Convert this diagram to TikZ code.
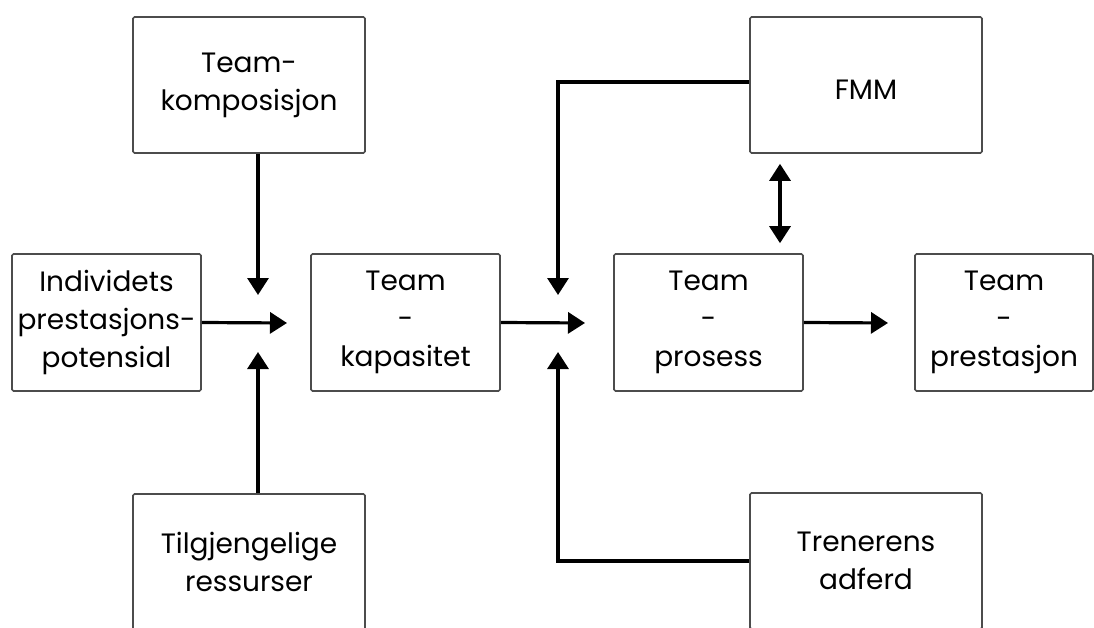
\documentclass[tikz,border=0pt]{standalone}
\usepackage{fontspec}
\setmainfont{Poppins}
\usetikzlibrary{arrows.meta}
\begin{document}
\begin{tikzpicture}[x=1pt,y=-1pt,
  box/.style={draw=black!70,line width=1.6pt,rounded corners=1.5pt,align=center,inner sep=0pt,
    font=\fontsize{28}{38}\selectfont,text=black},
  arr/.style={line width=3.2pt,-{Triangle[length=17pt,width=21pt]}},
  darr/.style={line width=3.2pt,{Triangle[length=17pt,width=21pt]}-{Triangle[length=17pt,width=21pt]}}]
\clip (0,0) rectangle (1094,628);
\node[box,minimum width=189pt,minimum height=137pt] (ind) at (106.5,322.5) {Individets\\prestasjons-\\potensial};
\node[box,minimum width=232pt,minimum height=136pt] (komp) at (249,85) {Team-\\komposisjon};
\node[box,minimum width=232pt,minimum height=136pt] (tilg) at (249,562) {Tilgjengelige\\ressurser};
\node[box,minimum width=189pt,minimum height=137pt] (kap) at (405.5,322.5) {Team\\-\\kapasitet};
\node[box,minimum width=189pt,minimum height=137pt] (pros) at (708.5,322.5) {Team\\-\\prosess};
\node[box,minimum width=178pt,minimum height=137pt] (pres) at (1004,322.5) {Team\\-\\prestasjon};
\node[box,minimum width=232pt,minimum height=136pt,text height=30pt] (fmm) at (866,85) {FMM};
\node[box,minimum width=232pt,minimum height=136pt] (tren) at (866,561) {Trenerens\\adferd};
\coordinate (a1) at (258,295);
\coordinate (a2) at (287,323);
\coordinate (a3) at (258,352);
\coordinate (b1) at (558,295);
\coordinate (b2) at (585,323);
\coordinate (b3) at (558,352);
\coordinate (c0) at (780,0);
\coordinate (c3) at (888,323);
\draw[arr] (komp.south -| a1) -- (a1);
\draw[arr] (ind.east) -- (a2);
\draw[arr] (tilg.north -| a3) -- (a3);
\draw[arr] (kap.east) -- (b2);
\draw[arr,line join=miter] ([yshift=3pt]fmm.west) -| (b1);
\draw[arr,line join=miter] (tren.west) -| (b3);
\draw[darr,shorten <=10pt,shorten >=10pt] (fmm.south -| c0) -- (pros.north -| c0);
\draw[arr] (pros.east) -- (c3);
\end{tikzpicture}
\end{document}
